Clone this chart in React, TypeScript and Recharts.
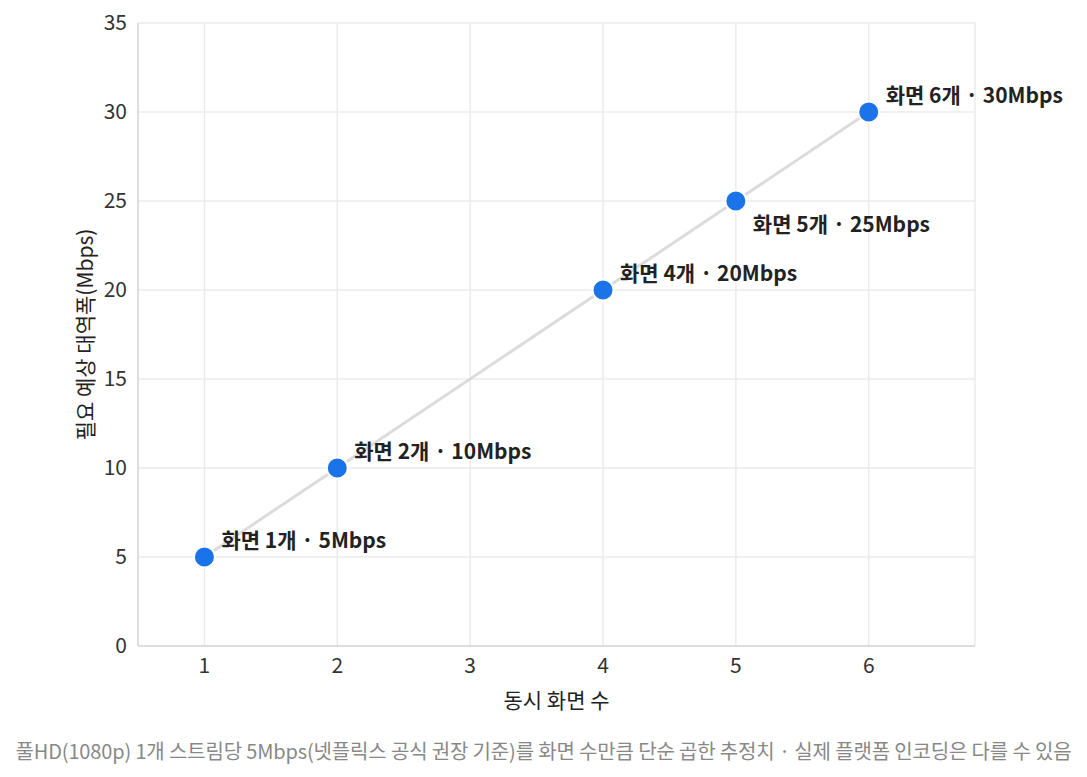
import React from "react";
import {
  CartesianGrid,
  LabelList,
  Line,
  LineChart,
  XAxis,
  YAxis,
} from "recharts";

const screens = [1, 2, 4, 5, 6];
const bandwidth = [5, 10, 20, 25, 30];
const xTicks = [1, 2, 3, 4, 5, 6];
const yTicks = [0, 5, 10, 15, 20, 25, 30, 35];
const pointLabels = [
  "화면 1개 · 5Mbps",
  "화면 2개 · 10Mbps",
  "화면 4개 · 20Mbps",
  "화면 5개 · 25Mbps",
  "화면 6개 · 30Mbps",
];
// labels drawn under the dot instead of above it
const labelsBelow = [5];

const FONT = "'Noto Sans CJK KR', 'Noto Sans', sans-serif";

const data = screens.map((x, i) => ({
  x,
  y: bandwidth[i],
  label: pointLabels[i],
}));

function PointLabel(props: any) {
  const { x, y, index } = props;
  const below = labelsBelow.includes(screens[index]);
  return (
    <text
      x={x + 17}
      y={below ? y + 22 : y - 18}
      dominantBaseline="central"
      fontFamily={FONT}
      fontSize={21}
      fontWeight={700}
      fill="#222"
    >
      {pointLabels[index]}
    </text>
  );
}

export default function App() {
  return (
    <div
      style={{
        position: "absolute",
        left: 0,
        top: 0,
        width: 1087,
        height: 777,
        background: "#fff",
        fontFamily: FONT,
      }}
    >
      <LineChart
        width={1087}
        height={720}
        data={data}
        margin={{ top: 23, right: 112, bottom: 4, left: 60 }}
      >
        <CartesianGrid stroke="#ebebeb" strokeWidth={1.5} />
        <XAxis
          type="number"
          dataKey="x"
          domain={[0.5, 6.8]}
          ticks={xTicks}
          allowDataOverflow
          tickLine={false}
          axisLine={{ stroke: "#dedede", strokeWidth: 2 }}
          tick={{ fill: "#333", fontSize: 21, fontFamily: FONT }}
          tickMargin={6}
          height={70}
          label={{
            value: "동시 화면 수",
            position: "insideBottom",
            offset: 8,
            fill: "#222",
            fontSize: 21,
            fontFamily: FONT,
          }}
        />
        <YAxis
          type="number"
          domain={[0, 35]}
          ticks={yTicks}
          tickLine={false}
          axisLine={{ stroke: "#dedede", strokeWidth: 2 }}
          tick={{ fill: "#333", fontSize: 21, fontFamily: FONT }}
          tickMargin={5}
          width={78}
          label={{
            value: "필요 예상 대역폭(Mbps)",
            angle: -90,
            position: "insideLeft",
            offset: 26,
            style: { textAnchor: "middle" },
            fill: "#222",
            fontSize: 21,
            fontFamily: FONT,
          }}
        />
        <Line
          type="linear"
          dataKey="y"
          stroke="#dcdcdc"
          strokeWidth={3}
          isAnimationActive={false}
          dot={{ r: 10.5, fill: "#1a73e8", stroke: "#fff", strokeWidth: 2 }}
          activeDot={false}
        >
          <LabelList dataKey="label" content={<PointLabel />} />
        </Line>
      </LineChart>
      <div
        style={{
          position: "absolute",
          left: 0,
          top: 736,
          width: 1087,
          textAlign: "center",
          color: "#888",
          fontSize: 20,
          whiteSpace: "nowrap",
          letterSpacing: -0.15,
        }}
      >
        풀HD(1080p) 1개 스트림당 5Mbps(넷플릭스 공식 권장 기준)를 화면 수만큼 단순
        곱한 추정치 · 실제 플랫폼 인코딩은 다를 수 있음
      </div>
    </div>
  );
}
